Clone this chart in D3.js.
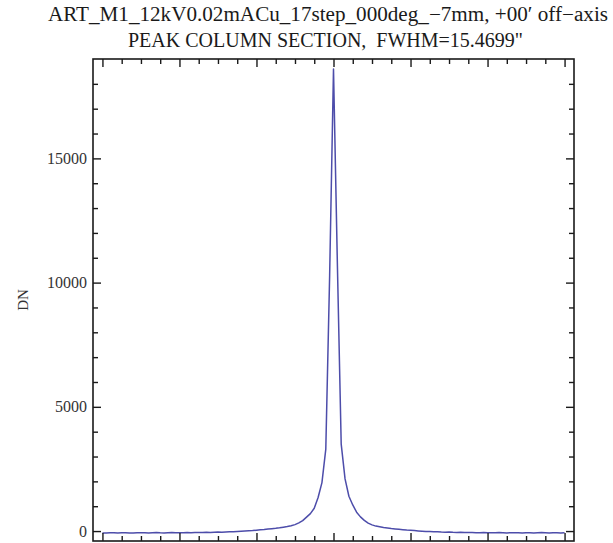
<!DOCTYPE html>
<html>
<head>
<meta charset="utf-8">
<script src="https://cdn.jsdelivr.net/npm/d3@7/dist/d3.min.js"></script>
<style>
  html, body { margin: 0; padding: 0; background: #fff; }
  svg { display: block; }
</style>
</head>
<body>
<svg id="chart" width="613" height="543"></svg>
<script>
// Column offsets (pixels) from the peak column
const columns = d3.range(-60, 61);

// Counts (DN) along the peak column section
const dn = [
  -75, -80, -72, -68, -78, -70, -65, -74, -80, -70,
  -66, -72, -76, -68, -62, -70, -74, -66, -60, -68,
  -72, -64, -58, -66, -60, -55, -62, -50, -56, -48,
  -40, -45, -35, -28, -32, -20, -10, 0, 10, 20,
  35, 50, 60, 80, 95, 110, 130, 155, 180, 215,
  260, 330, 420, 560, 700, 920, 1350, 1950, 3300, 10300,
  18600,
  10800, 3500, 2100, 1400, 1050, 760, 570, 430, 320, 250,
  200, 170, 140, 120, 100, 85, 70, 55, 40, 30,
  18, 5, -5, -15, -22, -30, -26, -38, -44, -40,
  -50, -55, -48, -58, -62, -56, -64, -70, -62, -66,
  -72, -68, -60, -66, -74, -70, -64, -72, -78, -70,
  -66, -74, -68, -62, -70, -76, -72, -66, -74, -70
];

const yMajorTicks = [0, 5000, 10000, 15000];
const yMinorTicks = [1000, 2000, 3000, 4000, 6000, 7000, 8000, 9000,
                     11000, 12000, 13000, 14000, 16000, 17000, 18000];
const xMajorTicks = [-60, -40, -20, 0, 20, 40, 60];
const xMinorTicks = [-55, -50, -45, -35, -30, -25, -15, -10, -5,
                     5, 10, 15, 25, 30, 35, 45, 50, 55];

const titleLines = [
  "ART_M1_12kV0.02mACu_17step_000deg_\u22127mm, +00\u2032 off\u2212axis",
  "PEAK COLUMN SECTION,  FWHM=15.4699\""
];
const yLabel = "DN";

const svg = d3.select("#chart");
const plotLeft = 93, plotRight = 574, plotTop = 59, plotBottom = 541;

const x = d3.scaleLinear().domain([-62.45, 62.45]).range([plotLeft, plotRight]);
const y = d3.scaleLinear().domain([-400, 19000]).range([plotBottom, plotTop]);

const serif = "'Liberation Serif', 'DejaVu Serif', serif";
const ink = "#1a1a1a";

// Title, stretched to its natural span
function titleLine(text, x0, x1, baseline, size) {
  svg.append("text")
    .attr("x", x0).attr("y", baseline)
    .attr("font-family", serif).attr("font-size", size)
    .attr("fill", ink)
    .attr("textLength", x1 - x0)
    .attr("lengthAdjust", "spacingAndGlyphs")
    .style("white-space", "pre")
    .text(text);
}
titleLine(titleLines[0], 48, 608, 21, 20);
titleLine(titleLines[1], 128, 523, 47, 20);

// Data line
const line = d3.line()
  .x((d, i) => x(columns[i]))
  .y(d => y(d));

svg.append("path")
  .datum(dn)
  .attr("d", line)
  .attr("fill", "none")
  .attr("stroke", "#4d4daa")
  .attr("stroke-width", 1.5)
  .attr("stroke-linejoin", "round");

// Frame ticks, pointing inward
function frameTicks(axisFn, scale, ticks, size, transform) {
  const g = svg.append("g").attr("transform", transform);
  g.call(axisFn(scale).tickValues(ticks).tickSize(size).tickFormat(""));
  g.select(".domain").remove();
  g.selectAll(".tick line").attr("stroke", ink).attr("stroke-width", 1.4);
  return g;
}

frameTicks(d3.axisRight, y, yMajorTicks, 8, `translate(${plotLeft},0)`);
frameTicks(d3.axisRight, y, yMinorTicks, 5, `translate(${plotLeft},0)`);
frameTicks(d3.axisLeft, y, yMajorTicks, 8, `translate(${plotRight},0)`);
frameTicks(d3.axisLeft, y, yMinorTicks, 5, `translate(${plotRight},0)`);
frameTicks(d3.axisBottom, x, xMajorTicks, 8, `translate(0,${plotTop})`);
frameTicks(d3.axisBottom, x, xMinorTicks, 5, `translate(0,${plotTop})`);
frameTicks(d3.axisTop, x, xMajorTicks, 8, `translate(0,${plotBottom})`);
frameTicks(d3.axisTop, x, xMinorTicks, 5, `translate(0,${plotBottom})`);

// Frame
svg.append("rect")
  .attr("x", plotLeft).attr("y", plotTop)
  .attr("width", plotRight - plotLeft).attr("height", plotBottom - plotTop)
  .attr("fill", "none").attr("stroke", ink).attr("stroke-width", 1.6);

// Y tick labels
svg.append("g").selectAll("text")
  .data(yMajorTicks)
  .join("text")
  .attr("x", 87)
  .attr("y", d => y(d))
  .attr("dy", "0.35em")
  .attr("text-anchor", "end")
  .attr("font-family", serif).attr("font-size", 16)
  .attr("fill", "#333")
  .text(d => d);

// Y axis label
svg.append("text")
  .attr("transform", "translate(28,300) rotate(-90)")
  .attr("text-anchor", "middle")
  .attr("font-family", serif).attr("font-size", 15)
  .attr("fill", "#333")
  .text(yLabel);
</script>
</body>
</html>
